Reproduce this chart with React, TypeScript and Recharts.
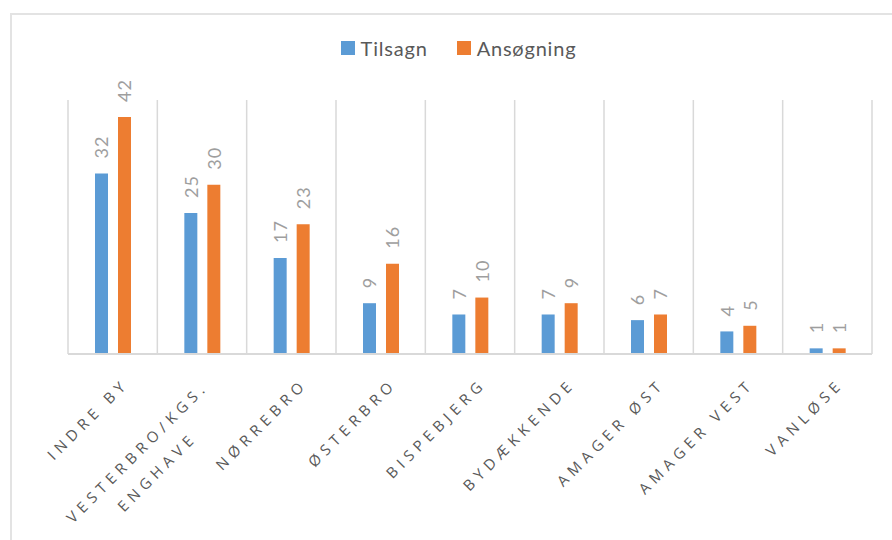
import { Bar, BarChart, CartesianGrid, LabelList, Legend, XAxis, YAxis } from 'recharts'

const districts = [
  'Indre By',
  'Vesterbro/Kgs.\nEnghave',
  'Nørrebro',
  'Østerbro',
  'Bispebjerg',
  'Bydækkende',
  'Amager Øst',
  'Amager Vest',
  'Vanløse',
]
const tilsagn = [32, 25, 17, 9, 7, 7, 6, 4, 1]
const ansoegning = [42, 30, 23, 16, 10, 9, 7, 5, 1]

const data = districts.map((name, i) => ({
  name,
  Tilsagn: tilsagn[i],
  Ansøgning: ansoegning[i],
}))

const BLUE = '#5b9bd5'
const ORANGE = '#ed7d31'
const TEXT = '#595959'
const GRID = '#d9d9d9'
const TICK_FONT = '15px "Open Sans"'
const TICK_SPACING = 5.2

let measureCtx: CanvasRenderingContext2D | null = null
function measure(text: string) {
  if (!measureCtx) measureCtx = document.createElement('canvas').getContext('2d')
  if (!measureCtx) return text.length * 14
  measureCtx.font = TICK_FONT
  return measureCtx.measureText(text).width + (text.length - 1) * TICK_SPACING
}

function DistrictTick(props: any) {
  const { x, y, payload } = props
  const lines = String(payload.value).toUpperCase().split('\n')
  const n = lines.length
  const widest = Math.max(...lines.map(measure))
  const endX = -15 - (n - 1) * 9
  const firstY = 28 - (n - 1) * 5
  return (
    <g transform={`translate(${x},${y}) rotate(-45)`}>
      {lines.map((line, i) => (
        <text
          key={i}
          x={endX - widest / 2 + TICK_SPACING / 2}
          y={firstY + i * 28}
          textAnchor="middle"
          dominantBaseline="central"
          fill={TEXT}
          style={{ font: TICK_FONT, letterSpacing: TICK_SPACING }}
        >
          {line}
        </text>
      ))}
    </g>
  )
}

function ValueLabel(props: any) {
  const { x, y, width, value } = props
  const cx = x + width / 2
  const ty = y - 15
  return (
    <text
      x={cx}
      y={ty}
      transform={`rotate(-90, ${cx}, ${ty})`}
      textAnchor="start"
      dominantBaseline="central"
      fill="#9e9e9e"
      style={{ fontFamily: 'Lato', fontSize: 18, letterSpacing: 1 }}
    >
      {value}
    </text>
  )
}

function LegendContent() {
  const items = [
    { label: 'Tilsagn', color: BLUE },
    { label: 'Ansøgning', color: ORANGE },
  ]
  return (
    <div
      style={{
        display: 'flex',
        justifyContent: 'center',
        gap: 29,
        paddingLeft: 25,
        fontFamily: 'Lato',
        fontSize: 20,
        letterSpacing: 0.8,
        color: TEXT,
      }}
    >
      {items.map((item) => (
        <div key={item.label} style={{ display: 'flex', alignItems: 'center', gap: 6 }}>
          <span style={{ display: 'inline-block', width: 14, height: 14, background: item.color }} />
          <span>{item.label}</span>
        </div>
      ))}
    </div>
  )
}

// vertical grid lines sit on the category boundaries, not on the tick centres
function boundaryLines({ offset }: any) {
  const step = offset.width / districts.length
  return Array.from({ length: districts.length + 1 }, (_, i) => offset.left + i * step)
}

export default function App() {
  return (
    <div style={{ position: 'absolute', left: 0, top: 0, width: 892, height: 540, background: '#fff', fontFamily: 'Open Sans' }}>
      <div
        style={{
          position: 'absolute',
          left: 10,
          top: 13,
          right: 0,
          bottom: 0,
          borderTop: '2px solid #e3e3e3',
          borderLeft: '2px solid #e3e3e3',
        }}
      />
      <BarChart
        width={892}
        height={540}
        data={data}
        margin={{ top: 100, right: 20, bottom: 0, left: 68 }}
        barSize={13}
        barGap={10}
        style={{ position: 'absolute', left: 0, top: 0 }}
      >
        <CartesianGrid
          horizontal={false}
          verticalCoordinatesGenerator={boundaryLines}
          stroke={GRID}
          strokeWidth={1.5}
        />
        <XAxis
          dataKey="name"
          height={186}
          interval={0}
          tickLine={false}
          tickSize={0}
          tickMargin={0}
          axisLine={{ stroke: GRID, strokeWidth: 2 }}
          tick={<DistrictTick />}
        />
        <YAxis hide domain={[0, 45]} />
        <Legend
          layout="horizontal"
          verticalAlign="middle"
          align="center"
          wrapperStyle={{ top: 36, left: 0, width: 892 }}
          content={<LegendContent />}
        />
        <Bar dataKey="Tilsagn" fill={BLUE} isAnimationActive={false}>
          <LabelList dataKey="Tilsagn" content={<ValueLabel />} />
        </Bar>
        <Bar dataKey="Ansøgning" fill={ORANGE} isAnimationActive={false}>
          <LabelList dataKey="Ansøgning" content={<ValueLabel />} />
        </Bar>
      </BarChart>
    </div>
  )
}
